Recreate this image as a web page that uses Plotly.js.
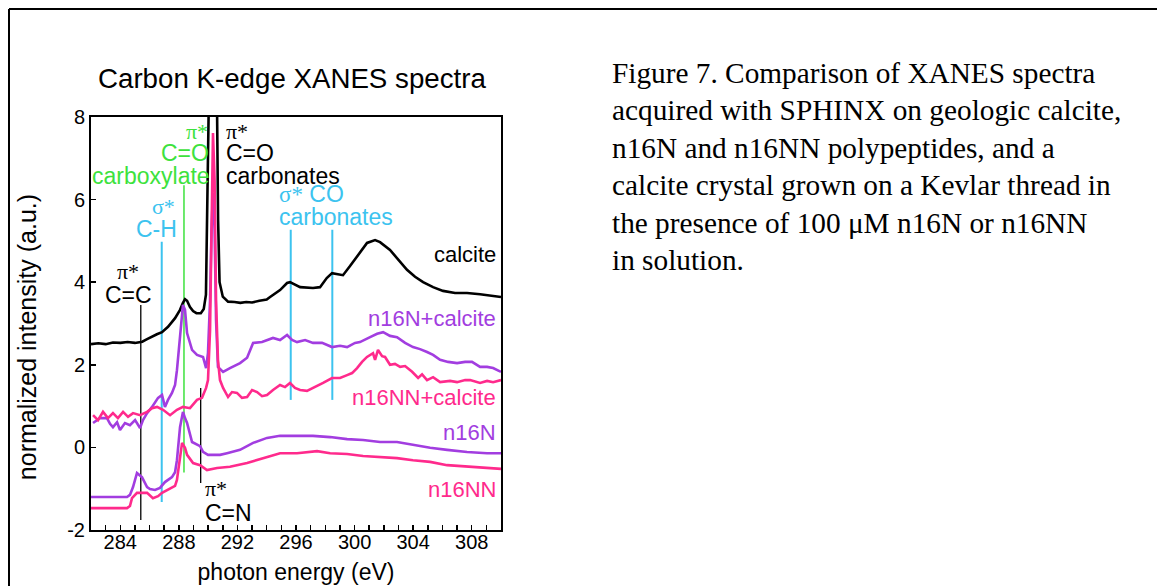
<!DOCTYPE html>
<html>
<head>
<meta charset="utf-8">
<script src="https://cdn.plot.ly/plotly-3.0.1.min.js"></script>
<style>html,body{margin:0;padding:0;background:#fff;overflow:hidden;}#chart{width:1157px;height:586px;}</style>
</head>
<body>
<div id="chart"></div>
<script>
// ---------- data (photon energy in eV, normalized intensity in a.u.) ----------
const calciteE = [282.0,282.5,283.0,283.5,284.0,284.5,285.0,285.5,285.83,286.23,286.5,286.85,287.26,287.74,288.08,288.28,288.42,288.56,288.76,288.97,289.2,289.5,289.7,289.85,289.95,290.05,290.35,290.6,290.68,290.78,291.0,291.15,291.36,291.8,292.2,292.6,293.0,293.5,294.0,294.23,294.91,295.39,295.59,296.28,297.16,297.64,298.1,298.46,298.8,299.21,299.69,300.17,300.85,301.4,301.74,302.42,303.11,303.58,304.13,304.68,305.36,306.04,306.86,307.68,308.57,309.25,310.0];
const calciteI = [2.50,2.52,2.50,2.54,2.53,2.55,2.53,2.56,2.62,2.70,2.74,2.79,2.92,3.13,3.33,3.50,3.59,3.55,3.40,3.30,3.25,3.25,3.35,3.70,5.5,8.5,10.5,8.5,5.5,4.0,3.65,3.60,3.53,3.52,3.50,3.52,3.51,3.55,3.58,3.64,3.81,3.98,4.00,3.88,3.86,3.88,4.10,4.22,4.20,4.17,4.39,4.61,4.95,5.02,4.97,4.78,4.49,4.30,4.13,4.00,3.88,3.79,3.74,3.74,3.71,3.67,3.64];

const n16NcalE = [282.14,282.61,283.09,283.30,283.50,283.78,283.98,284.32,284.66,285.01,285.35,285.55,285.83,286.17,286.58,286.85,287.05,287.26,287.53,287.74,287.87,288.08,288.28,288.42,288.56,288.90,289.24,289.65,289.86,289.99,290.13,290.23,290.33,290.44,290.54,290.67,291.02,291.49,292.18,292.66,293.07,293.68,294.09,294.43,294.91,295.39,295.73,296.07,296.62,297.16,297.78,298.46,299.01,299.49,300.03,300.37,301.06,301.54,301.95,302.42,302.90,303.45,303.99,304.47,304.95,305.36,305.84,306.39,307.00,307.55,308.02,308.57,309.05,309.46,310.0];
const n16NcalI = [0.59,0.71,0.71,0.57,0.49,0.61,0.42,0.59,0.54,0.66,0.47,0.66,0.83,0.98,1.20,1.27,0.98,1.15,1.32,1.51,1.87,2.77,3.45,3.33,2.77,2.36,2.24,2.19,1.92,2.29,3.57,5.26,6.16,5.26,3.08,1.95,1.83,1.92,2.04,2.17,2.53,2.55,2.60,2.65,2.60,2.72,2.60,2.55,2.60,2.53,2.53,2.43,2.46,2.43,2.53,2.55,2.67,2.75,2.79,2.70,2.67,2.53,2.43,2.38,2.31,2.24,2.12,2.07,2.04,2.07,2.07,1.95,1.95,1.92,1.83];

const n16NNcalE = [282.14,282.48,282.82,283.16,283.50,283.84,284.19,284.53,284.87,285.35,285.83,286.17,286.51,286.92,287.40,287.87,288.28,288.76,289.24,289.58,289.86,289.99,290.13,290.23,290.33,290.44,290.54,290.67,290.81,291.02,291.36,291.63,291.97,292.31,292.66,293.0,293.34,293.68,294.02,294.43,294.91,295.25,295.59,295.93,296.28,296.75,297.16,297.51,297.85,298.46,299.01,299.49,299.83,300.17,300.51,300.85,301.26,301.40,301.60,301.88,302.08,302.42,302.76,303.11,303.45,303.93,304.34,304.61,304.95,305.36,305.84,306.52,307.00,307.55,307.89,308.57,309.05,309.46,310.0];
const n16NNcalI = [0.78,0.66,0.86,0.71,0.83,0.71,0.86,0.74,0.83,0.78,0.86,0.95,0.98,0.91,0.78,0.91,0.98,0.95,1.15,1.20,1.44,1.63,2.84,5.99,7.61,6.47,3.57,2.12,1.63,1.44,1.22,1.34,1.32,1.20,1.22,1.39,1.34,1.24,1.27,1.39,1.51,1.46,1.56,1.44,1.39,1.37,1.44,1.49,1.56,1.68,1.68,1.75,1.80,1.92,2.07,2.19,2.28,2.12,2.36,2.21,2.19,2.00,2.02,1.95,1.97,1.83,1.68,1.77,1.63,1.70,1.58,1.61,1.58,1.63,1.63,1.56,1.61,1.58,1.63];

const n16NE = [282.0,284.46,284.66,284.87,285.14,285.35,285.48,285.83,286.03,286.37,286.71,287.05,287.53,287.74,287.87,288.08,288.28,288.42,288.56,288.90,289.24,289.45,289.65,289.99,290.33,290.81,291.29,292.18,293.07,294.02,294.91,296.07,297.16,298.33,299.49,300.58,301.74,302.90,303.99,305.16,306.32,307.68,309.05,310.0];
const n16NI = [-1.20,-1.20,-1.15,-0.96,-0.62,-0.67,-0.72,-0.96,-1.01,-1.03,-0.98,-0.84,-0.72,-0.60,-0.31,0.49,0.86,0.71,0.59,0.13,0.06,0.03,-0.11,-0.18,-0.18,-0.18,-0.14,-0.06,0.11,0.23,0.28,0.28,0.28,0.25,0.20,0.18,0.13,0.13,0.06,-0.01,-0.06,-0.11,-0.14,-0.14];

const n16NNE = [282.0,284.46,284.66,284.80,285.14,285.83,286.23,286.58,286.85,287.26,287.74,287.87,288.08,288.22,288.42,288.56,288.97,289.45,289.92,290.61,291.49,292.66,293.75,294.91,296.07,297.44,298.33,299.49,300.58,301.74,302.90,303.99,305.16,306.32,307.68,309.05,310.0];
const n16NNI = [-1.47,-1.47,-1.42,-1.23,-1.10,-1.10,-1.23,-1.18,-1.10,-1.03,-0.93,-0.79,-0.31,0.11,-0.01,-0.18,-0.38,-0.43,-0.55,-0.50,-0.47,-0.38,-0.26,-0.14,-0.14,-0.09,-0.14,-0.16,-0.21,-0.23,-0.26,-0.31,-0.35,-0.43,-0.47,-0.50,-0.52];

const seriesNames = ['calcite','n16N+calcite','n16NN+calcite','n16N','n16NN'];

// transition marker lines (energy, lower and upper intensity)
const markerEnergy = [285.40, 286.83, 288.35, 289.49, 295.64, 298.48];
const markerLow    = [-1.76, -1.32, -0.61, -0.86, 1.15, 1.15];
const markerHigh   = [3.45, 4.98, 6.35, 1.44, 5.27, 5.27];

const xTickVals = [284, 288, 292, 296, 300, 304, 308];
const yTickVals = [-2, 0, 2, 4, 6, 8];
const yTickText = ['-2', '0', '2', '4', '6', '8'];

const captionLines = [
  'Figure 7. Comparison of XANES spectra',
  'acquired with SPHINX on geologic calcite,',
  'n16N and n16NN polypeptides, and a',
  'calcite crystal grown on a Kevlar thread in',
  'the presence of 100 \u03bcM n16N or n16NN',
  'in solution.'
];

// ---------- styling ----------
const BLACK = '#000000', PURPLE = '#a23de0', PINK = '#ff2a8c', GREEN = '#3de23d', CYAN = '#3cc3ef';
const SANS = 'Liberation Sans, Arial, sans-serif';
const SERIF = 'Liberation Serif, Times New Roman, serif';
const markerColor = [BLACK, CYAN, GREEN, BLACK, CYAN, CYAN];
const markerWidth = [1.3, 2, 1.5, 1.3, 2, 2];

const seriesX = [calciteE, n16NcalE, n16NNcalE, n16NE, n16NNE];
const seriesY = [calciteI, n16NcalI, n16NNcalI, n16NI, n16NNI];
const seriesColor = [BLACK, PURPLE, PINK, PURPLE, PINK];

const traces = seriesX.map((xs, i) => ({
  type: 'scatter', mode: 'lines', name: seriesNames[i],
  x: xs, y: seriesY[i],
  line: {color: seriesColor[i], width: 2.6},
  hoverinfo: 'skip'
}));

const shapes = markerEnergy.map((e, i) => ({
  type: 'line', xref: 'x', yref: 'y', x0: e, x1: e, y0: markerLow[i], y1: markerHigh[i],
  line: {color: markerColor[i], width: markerWidth[i]}, layer: 'below'
}));
// figure frame (top and left edges)
shapes.push({type:'line', xref:'paper', yref:'paper', x0:-0.2, x1:2.62, y0:1.2615, y1:1.2615, line:{color:'#000', width:2}});
shapes.push({type:'line', xref:'paper', yref:'paper', x0:-0.2, x1:-0.2, y0:1.2615, y1:-0.15, line:{color:'#000', width:2}});

const ann = [];
function t(text, x, y, color, size, family, xanchor) {
  ann.push({text: text, x: x, y: y, xref: 'x', yref: 'y', showarrow: false,
    xanchor: xanchor || 'center', yanchor: 'middle',
    font: {color: color, size: size, family: family}});
}
// peak labels
t('\u03c0*', 284.56, 4.27, BLACK, 22, SERIF);
t('C=C', 284.56, 3.70, BLACK, 23, SANS);
t('\u03c3*', 286.95, 5.83, CYAN, 22, SERIF);
t('C-H', 286.44, 5.28, CYAN, 23, SANS);
t('\u03c0*', 289.21, 7.66, GREEN, 22, SERIF);
t('C=O', 288.42, 7.14, GREEN, 23, SANS);
t('carboxylate', 286.13, 6.56, GREEN, 23, SANS);
t('\u03c0*', 291.08, 7.66, BLACK, 22, SERIF, 'left');
t('C=O', 291.08, 7.13, BLACK, 23, SANS, 'left');
t('carbonates', 291.08, 6.57, BLACK, 23, SANS, 'left');
t('<span style="font-family:Liberation Serif">\u03c3*</span> CO', 294.70, 6.14, CYAN, 23, SANS, 'left');
t('carbonates', 294.70, 5.58, CYAN, 23, SANS, 'left');
t('\u03c0*', 289.65, -1.00, BLACK, 22, SERIF, 'left');
t('C=N', 289.65, -1.58, BLACK, 23, SANS, 'left');
// series labels
const labelY = [4.66, 3.13, 1.22, 0.35, -1.01];
seriesNames.forEach((n, i) => t(n, 309.8, labelY[i], seriesColor[i], 22, SANS, 'right'));

// chart title
ann.push({text: 'Carbon K-edge XANES spectra', xref: 'paper', yref: 'paper', x: 0.49, y: 1.094,
  xanchor: 'center', yanchor: 'middle', showarrow: false, font: {size: 27.7, color: '#000', family: SANS}});
// y-axis title
ann.push({text: 'normalized intensity (a.u.)', xref: 'paper', yref: 'paper', x: -0.156, y: 0.467,
  xanchor: 'center', yanchor: 'middle', textangle: -90, showarrow: false, font: {size: 25, color: '#000', family: SANS}});
// caption
captionLines.forEach((line, i) => {
  ann.push({text: line, xref: 'paper', yref: 'paper', x: 1.2659, y: (530 - (73 + i * 37.4)) / 413,
    xanchor: 'left', yanchor: 'middle', showarrow: false, font: {size: 29.3, color: '#000', family: SERIF}});
});

const layout = {
  width: 1157, height: 586,
  margin: {l: 91, r: 656, t: 117, b: 56, pad: 0},
  paper_bgcolor: '#fff', plot_bgcolor: '#fff',
  showlegend: false,
  xaxis: {
    range: [282, 310], tickvals: xTickVals, ticks: 'inside', ticklen: 5, tickwidth: 1.5, tickcolor: '#000',
    minor: {dtick: 1, tick0: 282, ticks: 'inside', ticklen: 5, tickwidth: 1.5, tickcolor: '#000', showgrid: false},
    ticklabelstandoff: -7,
    showline: true, linecolor: '#000', linewidth: 2, mirror: true, showgrid: false, zeroline: false,
    tickfont: {size: 20, color: '#000', family: SANS},
    title: {text: 'photon energy (eV)', font: {size: 23, color: '#000', family: SANS}, standoff: 12}
  },
  yaxis: {
    range: [-2, 8], tickvals: yTickVals, ticktext: yTickText, ticks: 'inside', ticklen: 5, tickwidth: 1.5, tickcolor: '#000',
    showline: true, linecolor: '#000', linewidth: 2, mirror: true, showgrid: false, zeroline: false,
    tickfont: {size: 20, color: '#000', family: SANS}
  },
  shapes: shapes,
  annotations: ann
};

Plotly.newPlot('chart', traces, layout, {staticPlot: true, displayModeBar: false});
</script>
</body>
</html>
